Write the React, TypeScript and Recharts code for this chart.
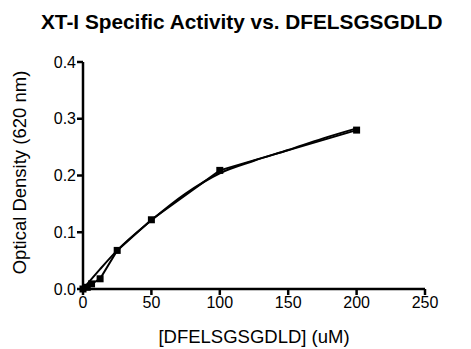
import { Line, LineChart, XAxis, YAxis } from "recharts"

// substrate concentrations (uM) and measured OD at 620 nm
const conc = [0, 3.125, 6.25, 12.5, 25, 50, 100, 200]
const od = [0, 0.003, 0.009, 0.018, 0.068, 0.122, 0.209, 0.28]

// fitted curve
const fitConc = [0, 12.5, 25, 50, 75, 100, 125, 150, 175, 200]
const fitOd = [0, 0.035, 0.068, 0.121, 0.168, 0.204, 0.226, 0.245, 0.265, 0.283]

const xTicks = [0, 50, 100, 150, 200, 250]
const yTicks = [0, 0.1, 0.2, 0.3, 0.4]

const measured = conc.map((c, i) => ({ c, od: od[i] }))
const fitted = fitConc.map((c, i) => ({ c, fit: fitOd[i] }))

const font = "'Liberation Sans', Arial, sans-serif"
const axisStyle = { stroke: "#000", strokeWidth: 2.5 }

function SquareDot(props: any) {
  const { cx, cy, index } = props
  if (cx == null || cy == null) return null
  return <rect key={index} x={cx - 3.5} y={cy - 3.5} width={7} height={7} fill="#000" />
}

function YLabel(props: any) {
  const { viewBox } = props
  const x = 19
  const y = viewBox.y + viewBox.height / 2 - 3
  return (
    <text
      x={x}
      y={y}
      transform={`rotate(-90 ${x} ${y})`}
      textAnchor="middle"
      dominantBaseline="central"
      fontSize={18.5}
      fill="#000"
      fontFamily={font}
    >
      Optical Density (620 nm)
    </text>
  )
}

export default function App() {
  return (
    <div style={{ position: "absolute", left: 0, top: 0, width: 471, height: 349, background: "#fff", fontFamily: font }}>
      <div
        style={{
          position: "absolute",
          left: 41,
          top: 8,
          fontSize: 20.8,
          lineHeight: "28px",
          fontWeight: "bold",
          color: "#000",
          whiteSpace: "nowrap",
        }}
      >
        XT-I Specific Activity vs. DFELSGSGDLD
      </div>
      <LineChart width={471} height={349} margin={{ top: 62, right: 46, bottom: 30, left: 0 }}>
        <XAxis
          type="number"
          dataKey="c"
          domain={[0, 250]}
          ticks={xTicks}
          allowDuplicatedCategory={false}
          height={30}
          axisLine={axisStyle}
          tickLine={axisStyle}
          tickSize={6}
          tickMargin={2}
          tick={{ fontSize: 16, fill: "#000", fontFamily: font }}
          label={{ value: "[DFELSGSGDLD] (uM)", position: "insideBottom", offset: -24, fontSize: 18.5, fill: "#000", fontFamily: font }}
        />
        <YAxis
          type="number"
          domain={[0, 0.4]}
          ticks={yTicks}
          width={83}
          axisLine={axisStyle}
          tickLine={axisStyle}
          tickSize={6}
          tickMargin={1}
          tickFormatter={(v: number) => v.toFixed(1)}
          tick={{ fontSize: 16, fill: "#000", fontFamily: font }}
          label={<YLabel />}
        />
        <Line
          data={fitted}
          dataKey="fit"
          type="monotone"
          stroke="#000"
          strokeWidth={2}
          dot={false}
          activeDot={false}
          isAnimationActive={false}
        />
        <Line
          data={measured}
          dataKey="od"
          type="linear"
          stroke="#000"
          strokeWidth={2}
          dot={<SquareDot />}
          activeDot={false}
          isAnimationActive={false}
        />
      </LineChart>
    </div>
  )
}
